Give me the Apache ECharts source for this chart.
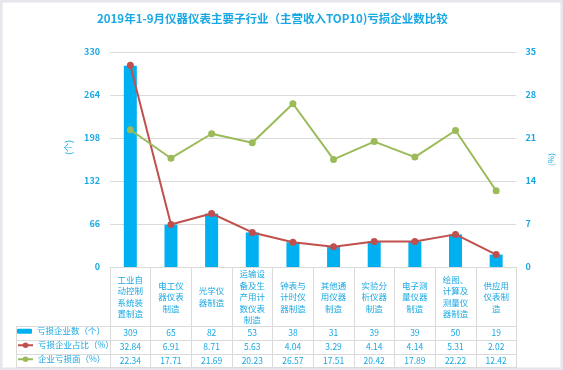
<!DOCTYPE html>
<html><head><meta charset="utf-8">
<script src="https://cdn.jsdelivr.net/npm/echarts@6/dist/echarts.min.js"></script>
<style>html,body{margin:0;padding:0;background:#fff}#c{width:563px;height:370px}</style>
</head><body><div id="c"></div><script>
const titleText = '2019年1-9月仪器仪表主要子行业（主营收入TOP10)亏损企业数比较';
const categories = ['工业自\n动控制\n系统装\n置制造', '电工仪\n器仪表\n制造', '光学仪\n器制造', '运输设\n备及生\n产用计\n数仪表\n制造', '钟表与\n计时仪\n器制造', '其他通\n用仪器\n制造', '实验分\n析仪器\n制造', '电子测\n量仪器\n制造', '绘图、\n计算及\n测量仪\n器制造', '供应用\n仪表制\n造'];
const seriesNames = ['亏损企业数（个）', '亏损企业占比（%）', '企业亏损面（%）'];
const lossCount = [309, 65, 82, 53, 38, 31, 39, 39, 50, 19];
const lossShare = ['32.84', '6.91', '8.71', '5.63', '4.04', '3.29', '4.14', '4.14', '5.31', '2.02'];
const lossRate = ['22.34', '17.71', '21.69', '20.23', '26.57', '17.51', '20.42', '17.89', '22.22', '12.42'];
const leftAxis = {min: 0, max: 330, interval: 66, name: '(个)'};
const rightAxis = {min: 0, max: 35, interval: 7, name: '(%)'};

const BLUE = '#00B0F0', RED = '#C0504D', GREEN = '#9BBB59';
const TXT = '#19A8E3', GRID = '#DADADA';
const FONT = '"Noto Sans CJK SC", "Noto Sans", sans-serif';
const chart = echarts.init(document.getElementById('c'), null, {renderer: 'canvas'});

function rowAxis(values, margin) {
  return {
    type: 'category', data: categories, position: 'bottom', gridIndex: 0,
    axisLine: {show: false}, axisTick: {show: false},
    axisLabel: {interval: 0, margin: margin, verticalAlign: 'middle', color: TXT, fontSize: 8.5, fontFamily: FONT,
      formatter: (v, i) => String(values[i])}
  };
}
function legendRow(name, top, h) {
  return {data: [name], left: 17, top: top, padding: 0, itemWidth: 15, itemHeight: h,
    textStyle: {color: TXT, fontSize: 8.5, fontFamily: FONT}};
}

chart.setOption({
  animation: false,
  backgroundColor: '#fff',
  title: {text: titleText, left: 92, top: 8, textStyle: {color: TXT, fontSize: 11.5, fontWeight: 'bold', fontFamily: FONT}},
  grid: {left: 110, right: 46, top: 52, bottom: 103},
  legend: [legendRow(seriesNames[0], 327, 5), legendRow(seriesNames[1], 341, 7), legendRow(seriesNames[2], 355, 7)],
  xAxis: [
    {type: 'category', data: categories, position: 'bottom',
      axisLine: {lineStyle: {color: GRID}},
      axisTick: {show: true, alignWithLabel: false, length: 100, lineStyle: {color: GRID}},
      axisLabel: {interval: 0, margin: 30, verticalAlign: 'middle', lineHeight: 11.5, color: TXT, fontSize: 8.5, fontFamily: FONT}},
    rowAxis(lossCount, 66), rowAxis(lossShare, 80), rowAxis(lossRate, 94)
  ],
  yAxis: [
    {type: 'value', min: leftAxis.min, max: leftAxis.max, interval: leftAxis.interval, name: leftAxis.name,
      nameLocation: 'middle', nameGap: 36, nameTextStyle: {color: TXT, fontSize: 9, fontFamily: FONT, padding: [0, 0, 0, 24]},
      axisLine: {show: false}, axisTick: {show: false},
      axisLabel: {color: TXT, fontSize: 9, fontWeight: 'bold', fontFamily: FONT, margin: 10},
      splitLine: {lineStyle: {color: GRID}}},
    {type: 'value', min: rightAxis.min, max: rightAxis.max, interval: rightAxis.interval, name: rightAxis.name,
      nameLocation: 'middle', nameGap: 20, nameTextStyle: {color: TXT, fontSize: 8, fontFamily: FONT},
      axisLine: {show: false}, axisTick: {show: false},
      axisLabel: {color: TXT, fontSize: 9, fontWeight: 'bold', fontFamily: FONT, margin: 9},
      splitLine: {show: false}}
  ],
  series: [
    {name: seriesNames[0], type: 'bar', data: lossCount, barWidth: 13, itemStyle: {color: BLUE}, yAxisIndex: 0},
    {name: seriesNames[1], type: 'line', data: lossShare.map(Number), yAxisIndex: 1, symbol: 'circle', symbolSize: 7,
      itemStyle: {color: RED}, lineStyle: {color: RED, width: 2}},
    {name: seriesNames[2], type: 'line', data: lossRate.map(Number), yAxisIndex: 1, symbol: 'circle', symbolSize: 7,
      itemStyle: {color: GREEN}, lineStyle: {color: GREEN, width: 2}}
  ],
  graphic: [
    {type: 'rect', shape: {x: 1, y: 1, width: 561, height: 368}, style: {fill: 'none', stroke: '#E6E6EC', lineWidth: 3}, silent: true},
    {type: 'line', shape: {x1: 16, y1: 326.5, x2: 517, y2: 326.5}, style: {stroke: GRID, lineWidth: 1}},
    {type: 'line', shape: {x1: 16, y1: 340.5, x2: 517, y2: 340.5}, style: {stroke: GRID, lineWidth: 1}},
    {type: 'line', shape: {x1: 16, y1: 354.5, x2: 517, y2: 354.5}, style: {stroke: GRID, lineWidth: 1}},
    {type: 'line', shape: {x1: 16, y1: 367.5, x2: 517, y2: 367.5}, style: {stroke: GRID, lineWidth: 1}},
    {type: 'line', shape: {x1: 16.5, y1: 326, x2: 16.5, y2: 368}, style: {stroke: GRID, lineWidth: 1}}
  ]
});
</script></body></html>
